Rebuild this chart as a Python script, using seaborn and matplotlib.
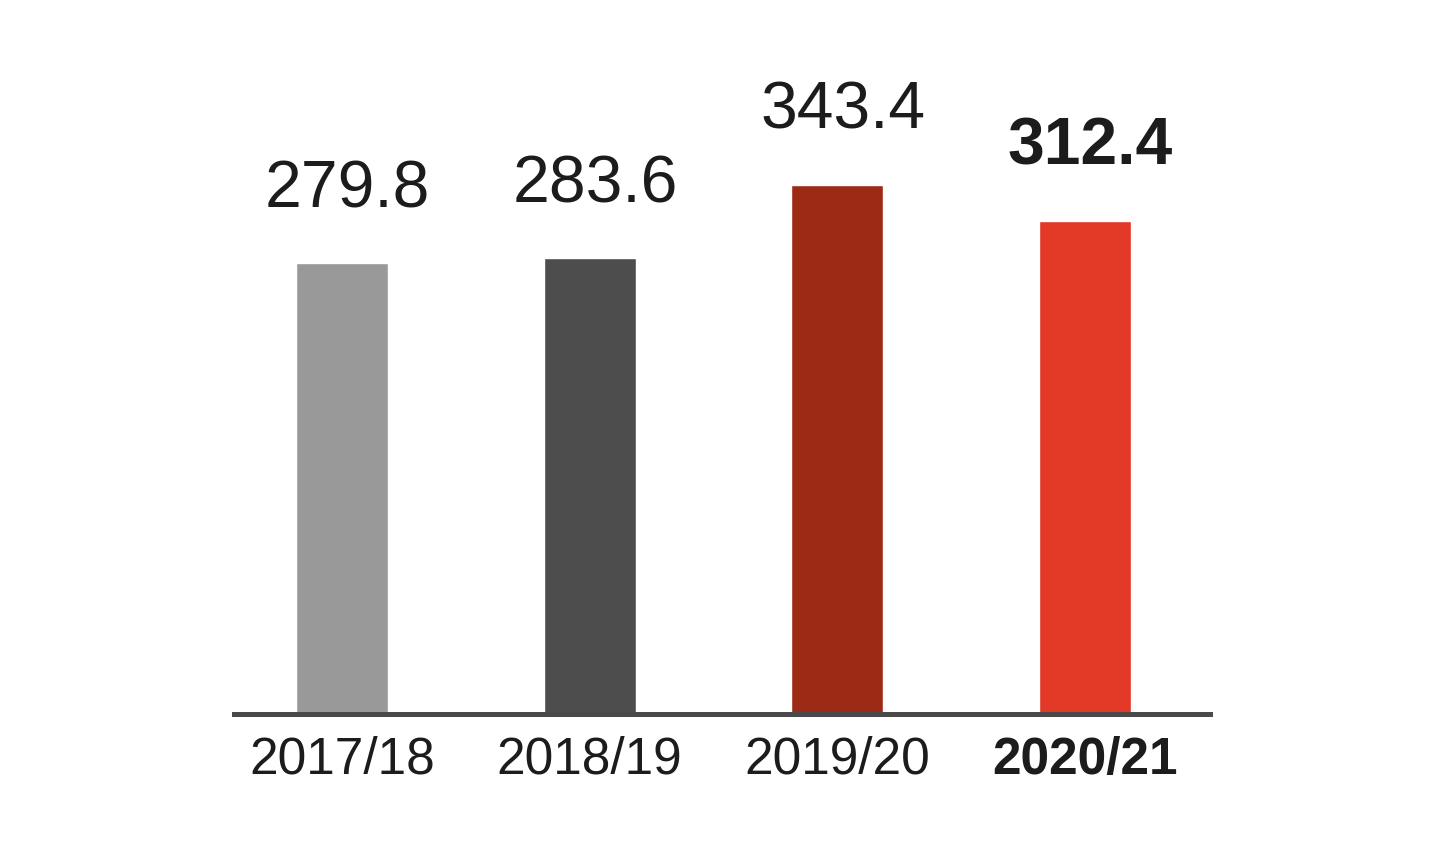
import matplotlib
matplotlib.use("Agg")
import matplotlib.pyplot as plt
import seaborn as sns
import pandas as pd

# Fiscal years and reported values
years = ["2017/18", "2018/19", "2019/20", "2020/21"]
values = [279.8, 283.6, 343.4, 312.4]
bar_colors = ["#999999", "#4d4d4d", "#9c2b15", "#e23826"]

sns.set_theme(style="white")
plt.rcParams["font.family"] = ["Liberation Sans", "DejaVu Sans"]

df = pd.DataFrame({"year": years, "value": values})

fig = plt.figure(figsize=(14.4, 8.64), dpi=100)
ax = fig.add_axes([234 / 1440, 1 - 714 / 864, 976 / 1440, 654 / 864])

sns.barplot(
    data=df, x="year", y="value", hue="year",
    palette=bar_colors, legend=False, width=0.372,
    saturation=1, ax=ax,
)

# compressed value axis so the bars stand on a common baseline
ax.set_yscale("log")
ax.set_ylim(86.2, 475.6)
ax.set_xlim(-0.436, 3.505)

text_color = "#1c1c1c"
for i, v in enumerate(values):
    ax.annotate(
        f"{v:.1f}", xy=(i, v), xytext=(4, 40.3), textcoords="offset points",
        ha="center", va="baseline", fontsize=47.5, color=text_color,
        fontweight="bold" if i == len(values) - 1 else "normal",
    )

for side in ["top", "left", "right"]:
    ax.spines[side].set_visible(False)
ax.spines["bottom"].set_color("#4a4a4a")
ax.spines["bottom"].set_linewidth(3.6)

ax.set_xlabel("")
ax.set_ylabel("")
ax.tick_params(axis="y", which="both", left=False, labelleft=False)
ax.tick_params(axis="x", length=0, pad=15.5, labelsize=37, labelcolor=text_color)
ax.get_xticklabels()[-1].set_fontweight("bold")

fig.savefig("out.png", dpi=100, facecolor="white")
